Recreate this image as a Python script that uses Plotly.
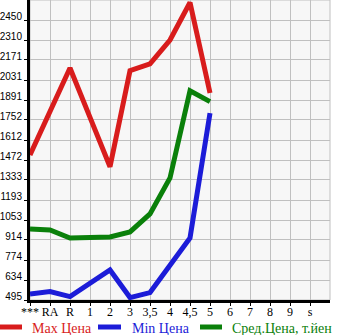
import plotly.graph_objects as go

categories = ["***", "RA", "R", "1", "2", "3", "3,5", "4", "4,5", "5", "6", "7", "8", "9", "s"]
max_price = [1508, 1811, 2115, 1770, 1425, 2096, 2143, 2310, 2572, 1940, None, None, None, None, None]
min_price = [537, 554, 519, 612, 705, 512, 547, 737, 928, 1800, None, None, None, None, None]
avg_price = [991, 984, 928, 928, 935, 970, 1096, 1347, 1956, 1880, None, None, None, None, None]
y_ticks = [495, 634, 774, 914, 1053, 1193, 1333, 1472, 1612, 1752, 1891, 2031, 2171, 2310, 2450]
series_names = ["Max Цена", "Min Цена", "Сред.Цена, т.йен"]

RED = "#d81c1c"
BLUE = "#1c1cd8"
GREEN = "#0a800a"
colors = [RED, BLUE, GREEN]

x_idx = list(range(len(categories)))
y_range = [y_ticks[0], y_ticks[-1] + (y_ticks[-1] - y_ticks[0]) / 14]
units_per_px = (y_range[1] - y_range[0]) / 300.0

fig = go.Figure()
for vals, color, name in zip([max_price, min_price, avg_price], colors, series_names):
    fig.add_trace(go.Scatter(
        x=x_idx, y=vals, mode="lines",
        line=dict(color=color, width=5),
        name=name, connectgaps=False, showlegend=False,
    ))
# empty trace to anchor the label axis
fig.add_trace(go.Scatter(x=[None], y=[None], yaxis="y2", showlegend=False, hoverinfo="skip"))

fig.update_layout(
    width=345, height=335,
    margin=dict(l=30, r=15, t=0, b=35),
    paper_bgcolor="white",
    plot_bgcolor="#f7f7f7",
    showlegend=False,
    xaxis=dict(
        range=[0, 15], tickmode="array", tickvals=x_idx, ticktext=categories,
        showgrid=True, gridcolor="#c0c0c0", gridwidth=1,
        showline=True, linecolor="black", linewidth=3,
        ticks="outside", ticklen=3, tickcolor="black",
        ticklabelstandoff=-4,
        tickfont=dict(family="Liberation Serif", size=12, color="black"),
        zeroline=False, fixedrange=True, automargin=False,
    ),
    yaxis=dict(
        range=y_range,
        tickmode="array", tickvals=y_ticks,
        showticklabels=False,
        showgrid=True, gridcolor="#c0c0c0", gridwidth=1,
        showline=True, linecolor="black", linewidth=3,
        ticks="outside", ticklen=3, tickcolor="black",
        zeroline=False, fixedrange=True, automargin=False,
    ),
    yaxis2=dict(
        overlaying="y", side="left", range=y_range,
        tickmode="array", tickvals=[v + 3.5 * units_per_px for v in y_ticks],
        ticktext=[str(v) for v in y_ticks],
        showgrid=False, showline=False, zeroline=False,
        ticks="outside", ticklen=5, tickcolor="rgba(0,0,0,0)",
        tickfont=dict(family="Liberation Sans", size=10, color="black"),
        fixedrange=True, automargin=False,
    ),
)
fig.add_shape(type="rect", xref="paper", yref="paper", x0=0, x1=1, y0=0, y1=1,
              line=dict(color="#c0c0c0", width=1), layer="below")

# manual legend (pixel positions converted to paper coords: plot spans x 30..330, y 0..300)
def px(x):
    return (x - 30) / 300.0

def py(y):
    return (300 - y) / 300.0

legend_items = [(0, 22, 30), (98, 121, 130), (200, 222, 230)]
for (sx0, sx1, tx), color, name in zip(legend_items, colors, series_names):
    fig.add_shape(type="line", xref="paper", yref="paper",
                  x0=px(sx0), x1=px(sx1), y0=py(327), y1=py(327),
                  line=dict(color=color, width=5))
    fig.add_annotation(xref="paper", yref="paper", x=px(tx), y=py(328),
                       xanchor="left", yanchor="middle", showarrow=False,
                       text=name, font=dict(family="Liberation Serif", size=14, color=color))

fig.write_html("out.html")
